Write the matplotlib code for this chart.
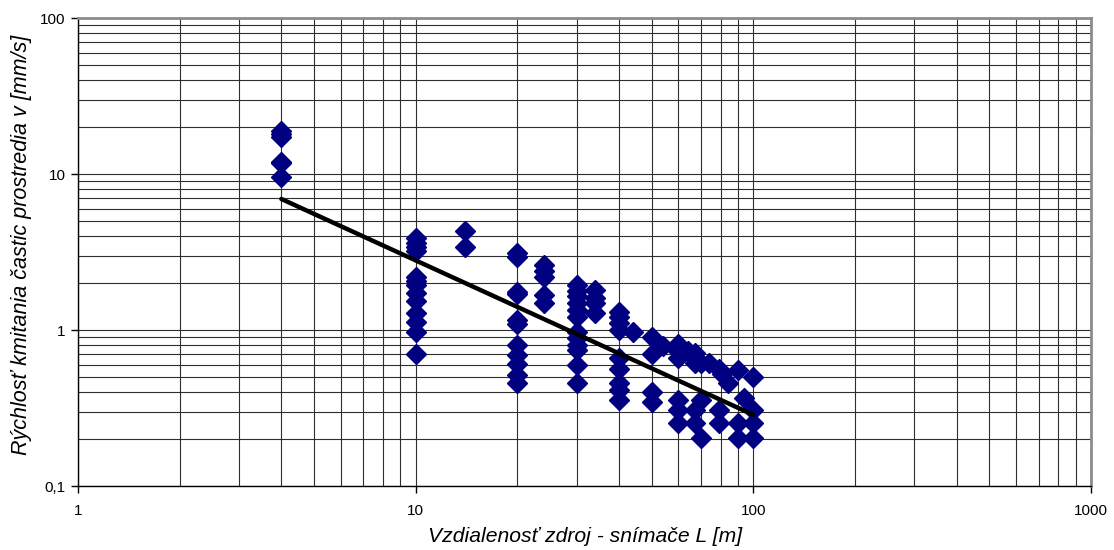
import matplotlib
matplotlib.use("Agg")
import matplotlib.pyplot as plt
import numpy as np
from matplotlib.ticker import FixedLocator, LogLocator, NullFormatter

plt.rcParams['font.family'] = ['Liberation Sans', 'DejaVu Sans']

# distance L [m] and vibration velocity v [mm/s]
dist_groups = [4, 10, 14, 20, 24, 30, 34, 40, 44, 50, 54, 60, 64, 67, 70, 74, 79, 81, 84, 90, 94, 100]
vel_groups = [
    [19, 18, 17.3, 12, 11.7, 9.5],
    [3.9, 3.6, 3.4, 3.2, 2.2, 2.05, 1.95, 1.73, 1.53, 1.28, 1.12, 0.97, 0.70],
    [4.3, 3.4],
    [3.1, 2.95, 1.75, 1.7, 1.16, 1.1, 0.80, 0.69, 0.605, 0.515, 0.457],
    [2.6, 2.4, 2.2, 1.68, 1.5],
    [1.94, 1.78, 1.65, 1.49, 1.34, 1.21, 0.97, 0.89, 0.80, 0.74, 0.60, 0.457],
    [1.8, 1.6, 1.49, 1.28],
    [1.3, 1.21, 1.11, 1.0, 0.66, 0.56, 0.46, 0.41, 0.356],
    [0.97],
    [0.90, 0.70, 0.40, 0.345],
    [0.79],
    [0.81, 0.73, 0.66, 0.356, 0.307, 0.253],
    [0.73],
    [0.71, 0.61, 0.307, 0.253],
    [0.61, 0.356, 0.203],
    [0.61],
    [0.56, 0.307, 0.253],
    [0.52],
    [0.46],
    [0.555, 0.253, 0.203],
    [0.367],
    [0.50, 0.307, 0.253, 0.203],
]

# power trendline v = a * L^b, drawn over the data range
trend_a = 27.3
trend_b = -0.99
trend_range = [4, 100]

x_ticks = [1, 10, 100, 1000]
x_ticklabels = ["1", "10", "100", "1000"]
y_ticks = [0.1, 1, 10, 100]
y_ticklabels = ["0,1", "1", "10", "100"]

xs, ys = [], []
for L, vals in zip(dist_groups, vel_groups):
    for v in vals:
        xs.append(L)
        ys.append(v)

W, H = 1114, 550
fig = plt.figure(figsize=(W / 100, H / 100), dpi=100)
ax = fig.add_axes([78 / W, 1 - 486 / H, (1091 - 78) / W, (486 - 18) / H])
ax.set_xscale('log')
ax.set_yscale('log')
ax.set_xlim(1, 1000)
ax.set_ylim(0.1, 100)

grid_color = '#2e2e2e'
ax.xaxis.set_major_locator(FixedLocator(x_ticks))
ax.yaxis.set_major_locator(FixedLocator(y_ticks))
ax.xaxis.set_minor_locator(LogLocator(base=10, subs=np.arange(2, 10)))
ax.yaxis.set_minor_locator(LogLocator(base=10, subs=np.arange(2, 10)))
ax.xaxis.set_minor_formatter(NullFormatter())
ax.yaxis.set_minor_formatter(NullFormatter())
ax.set_xticklabels(x_ticklabels)
ax.set_yticklabels(y_ticklabels)
ax.grid(True, which='both', color=grid_color, linewidth=0.8)
ax.set_axisbelow(True)
ax.tick_params(which='minor', length=0)
ax.tick_params(which='major', direction='out', length=5, width=1, colors='black',
               labelsize=11)
ax.tick_params(axis='x', which='major', pad=8)
ax.tick_params(axis='y', which='major', pad=4)

for s in ['left', 'bottom']:
    ax.spines[s].set_color('black')
    ax.spines[s].set_linewidth(1.0)
for s in ['top', 'right']:
    ax.spines[s].set_color('#8c8c8c')
    ax.spines[s].set_linewidth(2.0)

ax.plot(xs, ys, linestyle='none', marker='D', markersize=10.5,
        markerfacecolor='#000080', markeredgecolor='#000080', zorder=3)

tx = np.geomspace(trend_range[0], trend_range[1], 50)
ax.plot(tx, trend_a * tx ** trend_b, color='black', linewidth=3.2, zorder=4,
        solid_capstyle='round')

fig.text(585 / W, 1 - 537 / H, "Vzdialenosť zdroj - snímače L [m]", fontsize=15.2,
         style='italic', ha='center', va='center')
fig.text(22 / W, 1 - 245 / H, "Rýchlosť kmitania častic prostredia v [mm/s]",
         fontsize=15.5, style='italic', rotation=90, ha='center', va='center')

fig.savefig("out.png", dpi=100, facecolor='white')
